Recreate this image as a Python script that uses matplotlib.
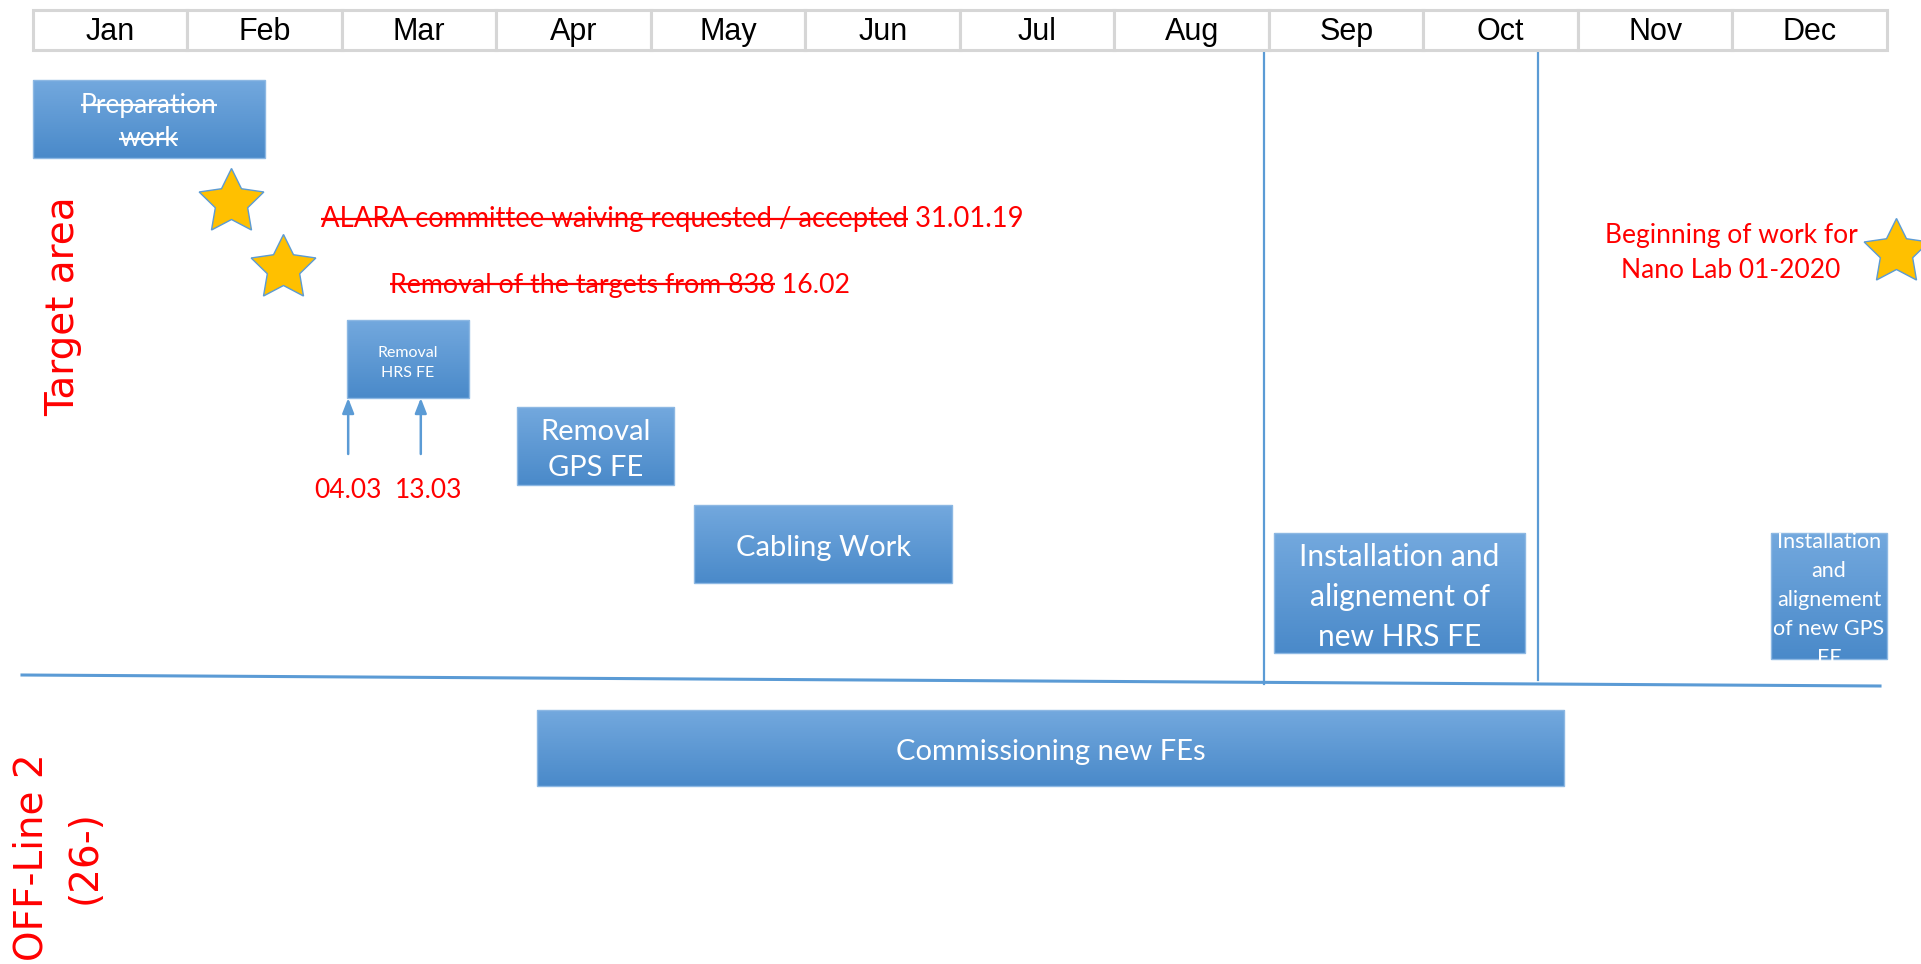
import numpy as np
import matplotlib
matplotlib.use("Agg")
import matplotlib.pyplot as plt
from matplotlib.patches import Rectangle

# --- data -------------------------------------------------------------
months = ["Jan", "Feb", "Mar", "Apr", "May", "Jun",
          "Jul", "Aug", "Sep", "Oct", "Nov", "Dec"]

task_names = ["Preparation\nwork", "Removal\nHRS FE", "Removal\nGPS FE",
              "Cabling Work", "Installation and\nalignement of\nnew HRS FE",
              "Installation\nand\nalignement\nof new GPS\nFE",
              "Commissioning new FEs"]
task_start = [0.0, 2.03, 3.13, 4.28, 8.03, 11.25, 3.26]   # month units
task_end = [1.50, 2.82, 4.15, 5.95, 9.66, 12.0, 9.91]

milestone_text = ["ALARA committee waiving requested / accepted",
                  "Removal of the targets from 838",
                  "Beginning of work for\nNano Lab 01-2020"]
milestone_date = ["31.01.19", "16.02", ""]
milestone_month = [1.28, 1.62, 12.06]

arrow_labels = ["04.03", "13.03"]
arrow_month = [2.04, 2.51]

phase_lines = [7.97, 9.74]

# --- layout (pixel rows of the 1921x964 canvas) -------------------------
X0, COLW = 33.0, 154.5          # left edge of header and width of one month
task_top = [80, 320, 407, 505, 533, 533, 710]
task_bot = [158, 398, 485, 583, 653, 659, 786]
task_fs = [19, 11.5, 21, 21, 21.5, 15.5, 21]
task_ls = [1.25, 1.55, 1.5, 1.2, 1.5, 1.55, 1.2]
star_y = [202, 268, 252]
DY = 4                           # Lato sits a little high when centred

BLUE = "#5B9BD5"
RED = "#FF0000"
BODY = ["Lato", "DejaVu Sans"]


def px(x):
    return (x - X0) / COLW


fig = plt.figure(figsize=(19.21, 9.64), dpi=100)
ax = fig.add_axes([0, 0, 1, 1])
ax.axis("off")

# header
for i, m in enumerate(months):
    ax.add_patch(Rectangle((i, 10), 1, 40, facecolor="white",
                           edgecolor="#D6D6D6", lw=2.2, zorder=2))
    ax.text(i + 0.5, 32, m, ha="center", va="center", fontsize=22,
            family=["Liberation Sans", "DejaVu Sans"], color="black", zorder=3)

# gradient boxes
grad = np.linspace(0, 1, 64)[:, None, None]
top_c = np.array([0.45, 0.66, 0.87])
bot_c = np.array([0.29, 0.54, 0.79])
img = top_c * (1 - grad) + bot_c * grad

box_patches = []
for s, e, t, b in zip(task_start, task_end, task_top, task_bot):
    ax.imshow(img, extent=(s, e, b, t), origin="upper", aspect="auto",
              interpolation="bilinear", zorder=2)
    r = Rectangle((s, t), e - s, b - t, facecolor="none",
                  edgecolor="#8DB8E3", lw=1.0, zorder=3)
    ax.add_patch(r)
    box_patches.append(r)

for k, name in enumerate(task_names):
    if k == 0:
        continue
    cx = (task_start[k] + task_end[k]) / 2
    cy = (task_top[k] + task_bot[k]) / 2 + DY
    t = ax.text(cx, cy, name, ha="center", va="center", ma="center",
                fontsize=task_fs[k], color="white", family=BODY,
                linespacing=task_ls[k], zorder=4)
    t.set_clip_path(box_patches[k])

# preparation work (struck through), one line at a time
cx0 = (task_start[0] + task_end[0]) / 2
prep = []
for line, yy in zip(task_names[0].split("\n"), [104, 138]):
    prep.append(ax.text(cx0, yy + 1, line, ha="center", va="center",
                        fontsize=task_fs[0], color="white", family=BODY, zorder=4))

# vertical phase lines and horizontal divider
ax.plot([phase_lines[0]] * 2, [43, 684], color=BLUE, lw=1.6, zorder=1)
ax.plot([phase_lines[1]] * 2, [51, 680], color=BLUE, lw=1.6, zorder=1)
ax.plot([px(22), px(1880)], [675, 686], color=BLUE, lw=2.2, zorder=1)

# stars
ax.plot(milestone_month, star_y, linestyle="none", marker=(5, 1, 0),
        markersize=49, markerfacecolor="#FFC000", markeredgecolor=BLUE,
        markeredgewidth=1.0, zorder=5, clip_on=False)

# milestone texts
ms_texts = []
t = ax.text(px(321), 219, milestone_text[0] + " " + milestone_date[0],
            ha="left", va="center", fontsize=19.8, color=RED, family=BODY)
ms_texts.append(t)
t = ax.text(px(390), 285, milestone_text[1] + " " + milestone_date[1],
            ha="left", va="center", fontsize=19.3, color=RED, family=BODY)
ms_texts.append(t)
ax.text(px(1731), 253, milestone_text[2], ha="center", va="center",
        ma="center", fontsize=19, color=RED, family=BODY, linespacing=1.5)

# arrows into "Removal HRS FE"
for m in arrow_month:
    ax.annotate("", xy=(m, 398), xytext=(m, 454),
                arrowprops=dict(arrowstyle="-|>,head_length=0.9,head_width=0.35",
                                color=BLUE, lw=1.8, shrinkA=0, shrinkB=0))
ax.text(px(348), 491, arrow_labels[0], ha="center", va="center",
        fontsize=19, color=RED, family=BODY)
ax.text(px(429), 491, arrow_labels[1], ha="center", va="center",
        fontsize=19, color=RED, family=BODY)

# area labels
ax.text(px(63), 306, "Target area", rotation=90, ha="center", va="center",
        fontsize=28, color=RED, family="DejaVu Sans")
ax.text(px(58), 857, "OFF-Line 2\n(26-)", rotation=90, ha="center",
        va="center", ma="center", fontsize=28, color=RED,
        family="DejaVu Sans", linespacing=1.5)

ax.set_xlim(px(0), px(1921))
ax.set_ylim(964, 0)

# strike-through lines
fig.canvas.draw()
rend = fig.canvas.get_renderer()
inv = ax.transData.inverted()


def strike(t, part=None, lw=1.6):
    bb = t.get_window_extent(rend)
    prop = t.get_fontproperties()
    size = prop.get_size_in_points() * fig.dpi / 72
    _, _, d = rend.get_text_width_height_descent("lp", prop, ismath=False)
    y = bb.y0 + d + 0.30 * size
    x1 = bb.x1
    if part is not None:
        w, _, _ = rend.get_text_width_height_descent(part, prop, ismath=False)
        x1 = bb.x0 + w
    (a, b), (c, e) = inv.transform([(bb.x0, y), (x1, y)])
    ax.plot([a, c], [b, e], color=t.get_color(), lw=lw, zorder=6,
            solid_capstyle="butt")


strike(ms_texts[0], milestone_text[0])
strike(ms_texts[1], milestone_text[1])
for p in prep:
    strike(p)

ax.set_xlim(px(0), px(1921))
ax.set_ylim(964, 0)
fig.savefig("out.png", dpi=100)
